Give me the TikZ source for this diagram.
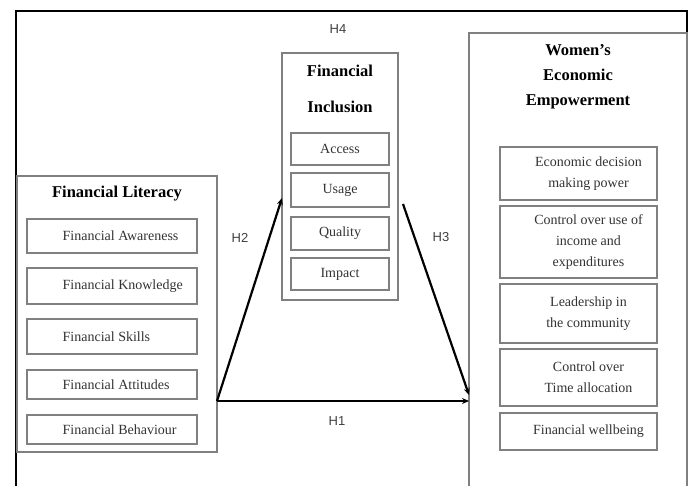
\documentclass[tikz,border=0pt]{standalone}
\usepackage{fontspec}
\setmainfont{Liberation Serif}
\newfontfamily\labfont{Liberation Sans}
\usetikzlibrary{arrows.meta}
\begin{document}
\begin{tikzpicture}[x=1pt,y=-1pt,
  outerbox/.style={draw=black!50, line width=1.3pt, rectangle, inner sep=0pt},
  subbox/.style={draw=black!50, line width=1.1pt, rectangle, inner sep=0pt},
  titletext/.style={font=\bfseries\fontsize{16.5}{25}\selectfont, align=center, text=black, inner sep=0pt},
  subtext/.style={font=\fontsize{14}{21}\selectfont, align=center, text=black!80, inner sep=0pt},
  hlabel/.style={font=\labfont\fontsize{13}{15}\selectfont, text=black!75, inner sep=0pt},
  conn/.style={line width=2.2pt, -{Stealth[length=7pt,width=6pt]}}
]
\useasboundingbox (0,0) rectangle (689,486);
\fill[white] (0,0) rectangle (689,486);
% frame
\draw[line width=1.6pt, black] (16,490) -- (16,11) -- (687,11) -- (687,490);

% Financial Literacy
\node[outerbox, minimum width=200pt, minimum height=276pt] (lit) at (117,314) {};
\node[titletext] (litT) at (117,194) {Financial Literacy};
\foreach \nm/\yc/\hh/\tx in {fa/236/34/Financial Awareness, fk/286/36/Financial Knowledge, fs/336.5/35/Financial Skills, fat/384.5/29/Financial Attitudes, fb/429.5/29/Financial Behaviour}{
  \node[subbox, minimum width=170pt, minimum height=\hh pt] (\nm) at (112,\yc) {};
  \node[subtext, anchor=west] (\nm T) at ([xshift=36pt]\nm.west) {\tx};
}

% Financial Inclusion
\node[outerbox, minimum width=116pt, minimum height=247pt] (inc) at (340,176.5) {};
\node[titletext, font=\bfseries\fontsize{16.5}{36}\selectfont] (incT) at (340,89) {Financial\\Inclusion};
\foreach \nm/\yc/\hh/\tx in {acc/149/32/Access, usg/190/34/Usage, qul/233.5/33/Quality, imp/274/32/Impact}{
  \node[subbox, minimum width=98pt, minimum height=\hh pt, subtext] (\nm) at (340,\yc) {\tx};
}

% Women's Economic Empowerment
\node[outerbox, minimum width=218pt, minimum height=470pt] (wee) at (578,268) {};
\node[titletext] (weeT) at (578,77) {Women's\\Economic\\Empowerment};
\foreach \nm/\yc/\hh/\tx in {w1/173.5/53/{Economic decision\\making power}, w2/242/72/{Control over use of\\income and\\expenditures}, w3/313.5/59/{Leadership in\\the community}, w4/377.5/57/{Control over\\Time allocation}, w5/431.5/37/{Financial wellbeing}}{
  \node[subbox, minimum width=157pt, minimum height=\hh pt] (\nm) at (578.5,\yc) {};
  \node[subtext] (\nm T) at ([xshift=10pt]\nm.center) {\tx};
}

% connectors
\coordinate (src) at (217,401);
\coordinate (h2end) at (282,198);
\coordinate (h3start) at (403,204);
\coordinate (h3end) at (469,395);
\coordinate (h1end) at (469,401);
\draw[conn] (src) -- (h2end);
\draw[conn] (h3start) -- (h3end);
\draw[conn] (src) -- (h1end);

% hypothesis labels
\node[hlabel] (H1) at (337,421) {H1};
\node[hlabel] (H2) at (240,238) {H2};
\node[hlabel] (H3) at (441,237) {H3};
\node[hlabel] (H4) at (338,29) {H4};
\end{tikzpicture}
\end{document}
